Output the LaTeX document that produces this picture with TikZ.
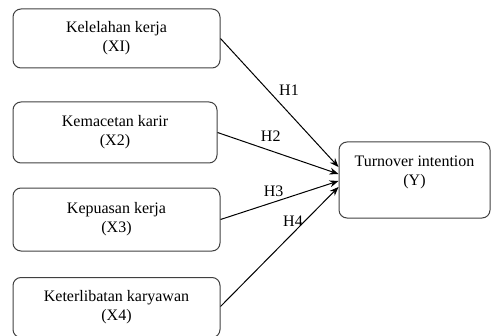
\documentclass[tikz,border=0pt]{standalone}
\usepackage{fontspec}
\setmainfont{Liberation Serif}
\usetikzlibrary{positioning,arrows.meta}

\begin{document}
\begin{tikzpicture}[
    x=0.5pt, y=-0.5pt,
    box/.style={rectangle, draw=black!75, line width=0.5pt, rounded corners=4pt, minimum width=103.5pt, minimum height=29.5pt, align=center, inner sep=0pt, font=\fontsize{8}{9.5}\selectfont},
    arrow/.style={-{Stealth[length=4.5pt, width=3.5pt]}, line width=0.5pt},
    hlabel/.style={inner sep=0pt, font=\fontsize{8}{9.5}\selectfont}
]
    \useasboundingbox (0,0) rectangle (491,336);

    % Independent variables
    \node[box] (x1) at (116.5, 38.5) {Kelelahan kerja\\(XI)};
    \node[box, minimum width=102pt, minimum height=30.5pt] (x2) at (115, 132.5) {Kemacetan karir\\(X2)};
    \node[box, minimum height=31.5pt] (x3) at (116.5, 219.5) {Kepuasan kerja\\(X3)};
    \node[box, minimum height=30pt] (x4) at (116.5, 307.5) {Keterlibatan karyawan\\(X4)};

    % Dependent variable
    \node[box, minimum width=75.5pt, minimum height=38pt] (y) at (414.5, 180) {Turnover intention\\(Y)\\\mbox{}};

    \draw[arrow] (x1.east) -- ([yshift=6.5pt]y.west) node[hlabel, pos=0.40, right=5.5pt] (h1) {H1};
    \draw[arrow] (x2.east) -- ([yshift=3pt]y.west) node[hlabel, pos=0.44, above=4.5pt] (h2) {H2};
    \draw[arrow] (x3.east) -- ([yshift=-0.5pt]y.west) node[hlabel, pos=0.45, above=2.3pt] (h3) {H3};
    \draw[arrow] ([yshift=0.5pt]x4.east) -- ([yshift=-3.5pt]y.west) node[hlabel, pos=0.71, left=0.5pt] (h4) {H4};
\end{tikzpicture}
\end{document}
